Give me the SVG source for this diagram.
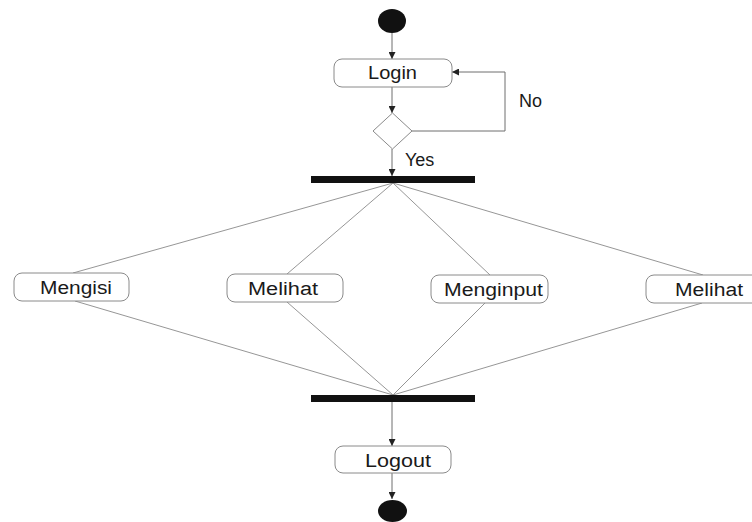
<svg xmlns="http://www.w3.org/2000/svg" width="752" height="522" viewBox="0 0 752 522">
  <style>
    .act { fill: #ffffff; stroke: #8a8a8a; stroke-width: 1; }
    .lbl { font-family: "Liberation Sans", Arial, sans-serif; font-size: 18px; fill: #1a1a1a; }
    .flow { fill: none; stroke: #6e6e6e; stroke-width: 1; }
    .fan { fill: none; stroke: #8a8a8a; stroke-width: 0.9; }
    .bar { fill: #111111; }
    .dot { fill: #111111; }
  </style>
  <defs>
    <marker id="arrow" viewBox="0 0 10 10" refX="10" refY="5" markerWidth="7" markerHeight="7" orient="auto" markerUnits="userSpaceOnUse">
      <path d="M0,0 L10,5 L0,10 z" fill="#222222"/>
    </marker>
  </defs>

  <!-- connectors -->
  <g id="connectors">
    <line class="flow" x1="392" y1="33" x2="392" y2="59" marker-end="url(#arrow)"/>
    <line class="flow" x1="392" y1="87" x2="392" y2="113" marker-end="url(#arrow)"/>
    <polyline class="flow" points="412,131 505,131 505,72 452,72" marker-end="url(#arrow)"/>
    <line class="flow" x1="392" y1="149" x2="392" y2="176" marker-end="url(#arrow)"/>
    <!-- fork to activities -->
    <line class="fan" x1="393" y1="183" x2="73" y2="273"/>
    <line class="fan" x1="393" y1="183" x2="287" y2="274"/>
    <line class="fan" x1="393" y1="183" x2="490" y2="275"/>
    <line class="fan" x1="393" y1="183" x2="703" y2="275"/>
    <!-- activities to join -->
    <line class="fan" x1="75" y1="301" x2="393" y2="395"/>
    <line class="fan" x1="287" y1="302" x2="393" y2="395"/>
    <line class="fan" x1="485" y1="303" x2="393" y2="395"/>
    <line class="fan" x1="702" y1="303" x2="393" y2="395"/>
    <line class="flow" x1="392" y1="402" x2="392" y2="446" marker-end="url(#arrow)"/>
    <line class="flow" x1="392" y1="473" x2="392" y2="499" marker-end="url(#arrow)"/>
    <text class="lbl" x="519" y="107">No</text>
    <text class="lbl" x="405" y="166">Yes</text>
  </g>

  <g id="start"><ellipse class="dot" cx="392" cy="21" rx="14" ry="12"/></g>

  <g id="login">
    <rect class="act" x="334" y="59" width="118" height="28" rx="8"/>
    <text class="lbl" x="392.5" y="79" text-anchor="middle" textLength="49" lengthAdjust="spacingAndGlyphs">Login</text>
  </g>

  <g id="decision"><polygon class="act" points="392.5,113 412,131 392.5,149 373,131"/></g>

  <g id="fork"><rect class="bar" x="311" y="176" width="164" height="7"/></g>

  <g id="mengisi">
    <rect class="act" x="14" y="273" width="115" height="28" rx="8"/>
    <text class="lbl" x="76" y="294" text-anchor="middle" textLength="72" lengthAdjust="spacingAndGlyphs">Mengisi</text>
  </g>

  <g id="melihat1">
    <rect class="act" x="227" y="274" width="116" height="28" rx="8"/>
    <text class="lbl" x="283" y="295" text-anchor="middle" textLength="70" lengthAdjust="spacingAndGlyphs">Melihat</text>
  </g>

  <g id="menginput">
    <rect class="act" x="431" y="275" width="117" height="28" rx="8"/>
    <text class="lbl" x="493.5" y="296" text-anchor="middle" textLength="99" lengthAdjust="spacingAndGlyphs">Menginput</text>
  </g>

  <g id="melihat2">
    <rect class="act" x="646" y="275" width="116" height="28" rx="8"/>
    <text class="lbl" x="709" y="296" text-anchor="middle" textLength="68" lengthAdjust="spacingAndGlyphs">Melihat</text>
  </g>

  <g id="join"><rect class="bar" x="311" y="395" width="164" height="7"/></g>

  <g id="logout">
    <rect class="act" x="335" y="446" width="116" height="27" rx="8"/>
    <text class="lbl" x="398" y="467" text-anchor="middle" textLength="66" lengthAdjust="spacingAndGlyphs">Logout</text>
  </g>

  <g id="end"><ellipse class="dot" cx="392.5" cy="511" rx="14.5" ry="11"/></g>
</svg>
